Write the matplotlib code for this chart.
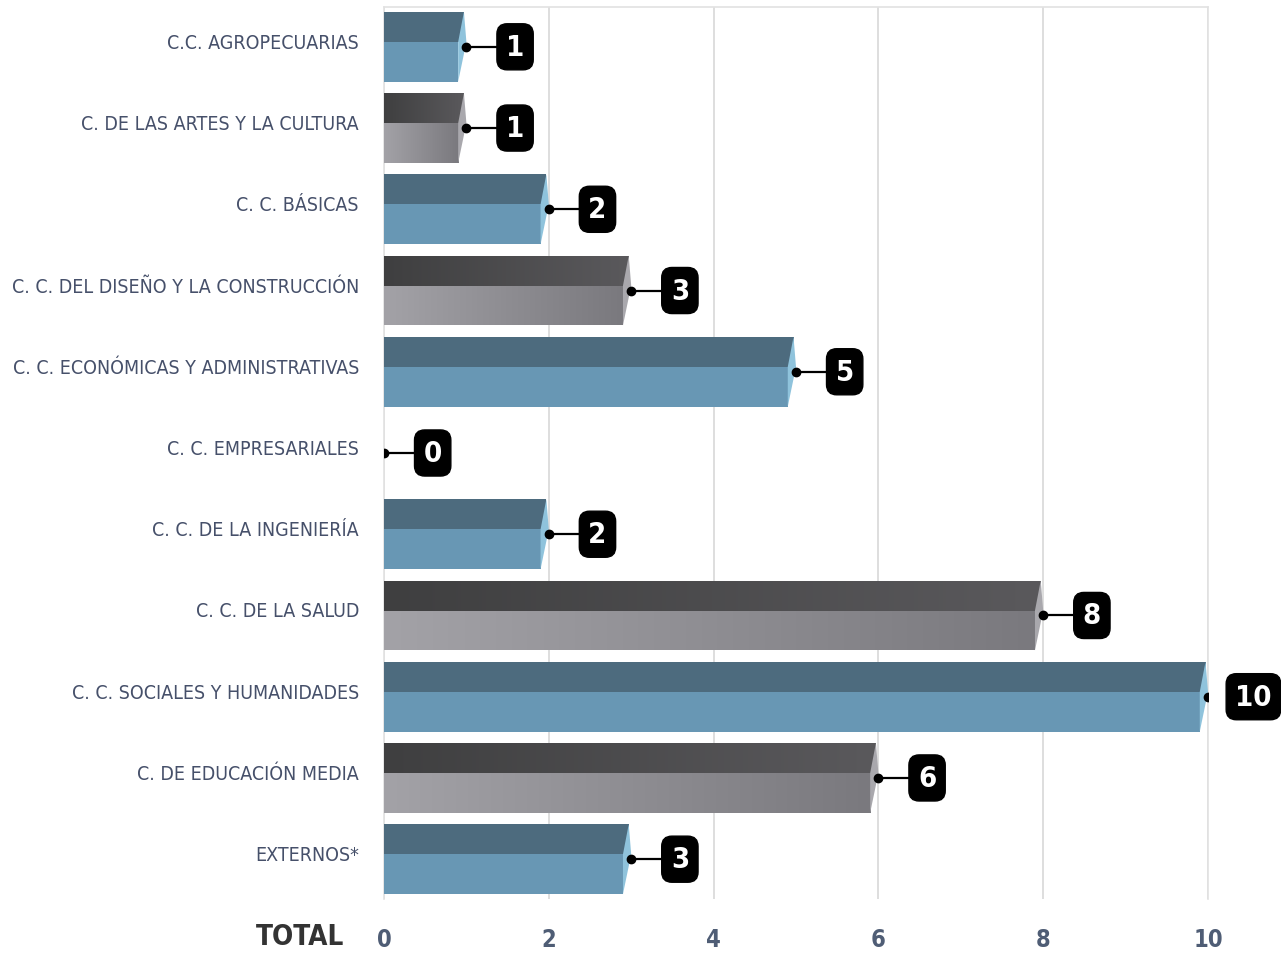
import numpy as np
import matplotlib.pyplot as plt
from matplotlib.patches import Polygon, Rectangle
from matplotlib.colors import LinearSegmentedColormap

categorias = [
    'C.C. AGROPECUARIAS',
    'C. DE LAS ARTES Y LA CULTURA',
    'C. C. BÁSICAS',
    'C. C. DEL DISEÑO Y LA CONSTRUCCIÓN',
    'C. C. ECONÓMICAS Y ADMINISTRATIVAS',
    'C. C. EMPRESARIALES',
    'C. C. DE LA INGENIERÍA',
    'C. C. DE LA SALUD',
    'C. C. SOCIALES Y HUMANIDADES',
    'C. DE EDUCACIÓN MEDIA',
    'EXTERNOS*',
]
valores = [1, 1, 2, 3, 5, 0, 2, 8, 10, 6, 3]
ticks_x = [0, 2, 4, 6, 8, 10]

# colores: cara superior, cara frontal, bisel
azul = ('#4d6b7e', '#6897b4', '#8fc3dc')
gris = ('#525254', '#8c8b90', '#a9a8ad')

# degradados para las barras grises
grad_sup = LinearSegmentedColormap.from_list('gs', ['#3f3f40', '#5a595c'])
grad_fro = LinearSegmentedColormap.from_list('gf', ['#a3a2a7', '#7a797e'])
rampa = np.linspace(0, 1, 256).reshape(1, -1)

fuente = ['DejaVu Sans']

fig = plt.figure(figsize=(12.81, 9.54), dpi=100)
ax = fig.add_axes([384 / 1281, 54 / 954, (1208 - 384) / 1281, 892 / 954])

h = 0.43
sup = 0.37
for i, v in enumerate(valores):
    top_c, front_c, bev_c = azul if i % 2 == 0 else gris
    if v > 0:
        cara_sup = Rectangle((0, i - h), v - 0.03, sup, color=top_c, lw=0, zorder=3)
        cara_fro = Rectangle((0, i - h + sup), v - 0.1, 2 * h - sup, color=front_c, lw=0, zorder=3)
        ax.add_patch(cara_sup)
        ax.add_patch(cara_fro)
        if i % 2 == 1:
            im = ax.imshow(rampa, cmap=grad_sup, aspect='auto', zorder=3.1,
                           extent=(0, v - 0.03, i - h + sup, i - h))
            im.set_clip_path(cara_sup)
            im = ax.imshow(rampa, cmap=grad_fro, aspect='auto', zorder=3.1,
                           extent=(0, v - 0.1, i + h, i - h + sup))
            im.set_clip_path(cara_fro)
        # bisel derecho
        ax.add_patch(Polygon([(v - 0.1, i + h), (v - 0.1, i - h + sup), (v - 0.03, i - h),
                              (v, i - h + sup)], closed=True, color=bev_c, lw=0, zorder=3.2))
    # conector y etiqueta (las de dos cifras van más pegadas)
    largo = 0.37 - 0.15 * (len(str(v)) - 1)
    ax.plot([v, v + largo], [i, i], color='black', lw=1.6, zorder=4)
    ax.plot(v, i, 'o', color='black', ms=6, zorder=5)
    ax.text(v + largo + 0.11, i, str(v), ha='left', va='center', color='white',
            fontsize=21, fontweight='bold', family=fuente, fontstretch='condensed', zorder=6,
            bbox=dict(boxstyle='round,pad=0.31,rounding_size=0.35', fc='black', ec='black'))

ax.set_xlim(0, 10)
ax.set_ylim(10.49, -0.49)
ax.set_yticks([i - 0.08 for i in range(len(categorias))])
ax.set_yticklabels(categorias, fontsize=14, color='#46506a', family=fuente, fontstretch='condensed')
ax.set_xticks(ticks_x)
ax.set_xticklabels([str(t) for t in ticks_x], fontsize=17, color='#4f5d75',
                   fontweight='bold', family=fuente, fontstretch='condensed')
ax.tick_params(axis='y', length=0, pad=18)
ax.tick_params(axis='x', length=0, pad=20)
ax.grid(axis='x', color='#d8d8d8', lw=1.2, zorder=0)
for s in ax.spines.values():
    s.set_color('#e2e2e2')
    s.set_linewidth(1.2)
ax.spines['bottom'].set_visible(False)

fig.text(300 / 1281, 1 - 937 / 954, 'TOTAL', ha='center', va='center', fontsize=20,
         fontweight='bold', color='#333333', family=fuente, fontstretch='condensed')

fig.savefig('out.png', dpi=100)
